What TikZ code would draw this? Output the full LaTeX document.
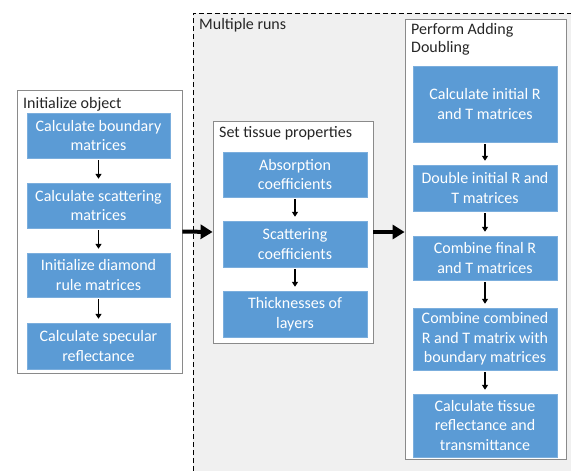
\documentclass[tikz,border=0pt]{standalone}
\usepackage{fontspec}
\setmainfont{Carlito}
\usepackage{xcolor}
\usepackage{tikz}
\usetikzlibrary{arrows.meta}

\definecolor{cajaazul}{HTML}{5B9BD5}
\definecolor{bordeazul}{HTML}{7BAEDD}
\definecolor{fondogris}{HTML}{F0F0F0}
\definecolor{bordegris}{HTML}{8A8A8A}

\begin{document}
\begin{tikzpicture}[x=1pt, y=-1pt,
    paso/.style={draw=bordeazul, fill=cajaazul, text=white, align=center,
        font=\fontsize{16}{19.5}\selectfont, minimum width=144pt, inner sep=0pt},
    grupo/.style={draw=bordegris, fill=white, line width=0.8pt, inner sep=0pt},
    titulo/.style={anchor=west, inner sep=0pt, text=black!85,
        font=\fontsize{16}{18.5}\selectfont, align=left},
    flechita/.style={-{Triangle[length=5pt,width=6pt]}, line width=1.3pt,
        shorten <=2pt, shorten >=4pt},
    flecha/.style={-{Triangle[length=12pt,width=14pt]}, line width=4pt}]
            \useasboundingbox (0,0) rectangle (571,471);
            % Zona de varias corridas
            \fill[fondogris] (193,13) rectangle (571,471);
            \draw[line width=1pt, dash pattern=on 5pt off 3pt] (193,471) -- (193,13) -- (571,13);
            \node[titulo] (runs) at (199,25) {Multiple runs};

            % Inicializar objeto
            \node[grupo, minimum width=165pt, minimum height=283pt] (init) at (99.5,231.5) {};
            \node[titulo] (initT) at (23,104) {Initialize object};
            \node[paso, minimum width=143pt, minimum height=45pt] (bound) at (98.5,135.5) {Calculate boundary\\matrices};
            \node[paso, minimum width=143pt, minimum height=45pt] (scat) at (98.5,205.5) {Calculate scattering\\matrices};
            \node[paso, minimum width=143pt, minimum height=44pt] (diam) at (98.5,275) {Initialize diamond\\rule matrices};
            \node[paso, minimum width=143pt, minimum height=46pt] (spec) at (98.5,346) {Calculate specular\\reflectance};
            \draw[flechita] (bound) -- (scat);
            \draw[flechita] (scat) -- (diam);
            \draw[flechita] (diam) -- (spec);

            % Propiedades del tejido
            \node[grupo, minimum width=160pt, minimum height=222pt] (tissue) at (293,232) {};
            \node[titulo] (tissueT) at (219,133) {Set tissue properties};
            \node[paso, minimum height=45pt] (absor) at (295,174.5) {Absorption\\coefficients};
            \node[paso, minimum height=46pt] (scoef) at (295,244) {Scattering\\coefficients};
            \node[paso, minimum height=46pt] (thick) at (295,314) {Thicknesses of\\layers};
            \draw[flechita] (absor) -- (scoef);
            \draw[flechita] (scoef) -- (thick);

            % Adding doubling
            \node[grupo, minimum width=161pt, minimum height=440pt] (adding) at (485.5,239) {};
            \node[titulo, anchor=north west] (addingT) at (411,23) {Perform Adding\\Doubling};
            \node[paso, minimum height=76pt] (initRT) at (485,104) {Calculate initial R\\and T matrices};
            \node[paso, minimum height=46pt] (doubRT) at (485,188) {Double initial R and\\T matrices};
            \node[paso, minimum height=44pt] (combRT) at (485,258) {Combine final R\\and T matrices};
            \node[paso, minimum height=62pt] (combB) at (485,339) {Combine combined\\R and T matrix with\\boundary matrices};
            \node[paso, minimum height=63pt] (refl) at (485,425.5) {Calculate tissue\\reflectance and\\transmittance};
            \draw[flechita] (initRT) -- (doubRT);
            \draw[flechita] (doubRT) -- (combRT);
            \draw[flechita] (combRT) -- (combB);
            \draw[flechita] (combB) -- (refl);

            % Flechas grandes
            \draw[flecha] (init.east) -- (tissue.west);
            \draw[flecha] (tissue.east) -- (tissue.east -| adding.west);
       \end{tikzpicture}
\end{document}
